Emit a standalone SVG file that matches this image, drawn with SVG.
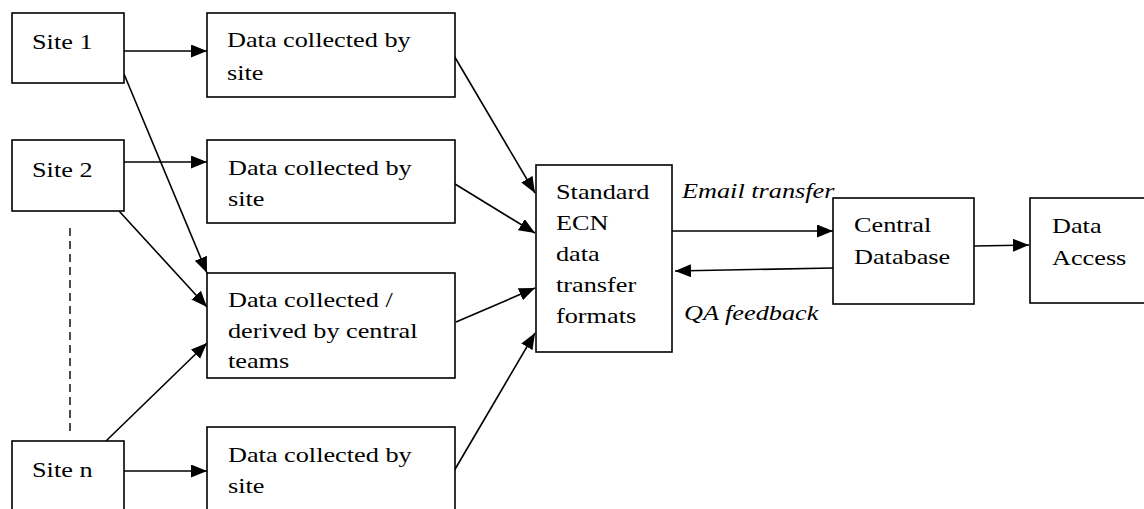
<svg xmlns="http://www.w3.org/2000/svg" width="1144" height="509" viewBox="0 0 1144 509">
<defs>
<style>
.box{fill:#fff;stroke:#000;stroke-width:1.6}
.t{font-family:"Liberation Serif","Times New Roman",serif;font-size:21px;fill:#000}
.i{font-style:italic}
.c{fill:none;stroke:#000;stroke-width:1.6}
.d{fill:none;stroke:#000;stroke-width:1.4;stroke-dasharray:8 5}
</style>
<marker id="ah" markerUnits="userSpaceOnUse" markerWidth="17" markerHeight="14" refX="16" refY="6.5" orient="auto">
<path d="M0,0 L16,6.5 L0,13 z" fill="#000"/>
</marker>
</defs>
<rect width="1144" height="509" fill="#fff"/>
<g id="connectors">
<line class="c" x1="124" y1="51" x2="207" y2="51" marker-end="url(#ah)"/>
<line class="c" x1="124" y1="162" x2="207" y2="162" marker-end="url(#ah)"/>
<line class="c" x1="124" y1="74" x2="207" y2="273" marker-end="url(#ah)"/>
<line class="c" x1="119" y1="211" x2="207" y2="307" marker-end="url(#ah)"/>
<line class="c" x1="106" y1="441" x2="207" y2="343" marker-end="url(#ah)"/>
<line class="c" x1="124" y1="471" x2="207" y2="471" marker-end="url(#ah)"/>
<line class="d" x1="70" y1="228" x2="70" y2="434"/>
<line class="c" x1="453" y1="54" x2="535" y2="193" marker-end="url(#ah)"/>
<line class="c" x1="455" y1="184" x2="535" y2="233" marker-end="url(#ah)"/>
<line class="c" x1="456" y1="322" x2="535" y2="288" marker-end="url(#ah)"/>
<line class="c" x1="454" y1="471" x2="535" y2="333" marker-end="url(#ah)"/>
<line class="c" x1="672" y1="231" x2="833" y2="231" marker-end="url(#ah)"/>
<line class="c" x1="833" y1="268" x2="675" y2="271" marker-end="url(#ah)"/>
<line class="c" x1="974" y1="246" x2="1029" y2="245" marker-end="url(#ah)"/>
<text class="t i" transform="translate(682,198) scale(1.25,1)">Email transfer</text>
<text class="t i" transform="translate(684,320) scale(1.25,1)">QA feedback</text>
</g>
<g id="site1">
<rect class="box" x="12" y="13" width="112" height="70"/>
<text class="t" transform="translate(32,49) scale(1.25,1)">Site 1</text>
</g>
<g id="site2">
<rect class="box" x="12" y="140" width="112" height="71"/>
<text class="t" transform="translate(32,177) scale(1.25,1)">Site 2</text>
</g>
<g id="siten">
<rect class="box" x="12" y="441" width="112" height="90"/>
<text class="t" transform="translate(32,477) scale(1.25,1)">Site n</text>
</g>
<g id="data1">
<rect class="box" x="207" y="13" width="248" height="84"/>
<text class="t" transform="translate(227,47) scale(1.25,1)">Data collected by</text>
<text class="t" transform="translate(227,80) scale(1.25,1)">site</text>
</g>
<g id="data2">
<rect class="box" x="207" y="140" width="248" height="83"/>
<text class="t" transform="translate(228,175) scale(1.25,1)">Data collected by</text>
<text class="t" transform="translate(228,206) scale(1.25,1)">site</text>
</g>
<g id="data3">
<rect class="box" x="207" y="273" width="248" height="105"/>
<text class="t" transform="translate(228,307) scale(1.25,1)">Data collected /</text>
<text class="t" transform="translate(228,338) scale(1.25,1)">derived by central</text>
<text class="t" transform="translate(228,368) scale(1.25,1)">teams</text>
</g>
<g id="data4">
<rect class="box" x="207" y="427" width="248" height="100"/>
<text class="t" transform="translate(228,462) scale(1.25,1)">Data collected by</text>
<text class="t" transform="translate(228,493) scale(1.25,1)">site</text>
</g>
<g id="standard">
<rect class="box" x="536" y="165" width="136" height="187"/>
<text class="t" transform="translate(556,199) scale(1.25,1)">Standard</text>
<text class="t" transform="translate(556,230) scale(1.25,1)">ECN</text>
<text class="t" transform="translate(556,261) scale(1.25,1)">data</text>
<text class="t" transform="translate(556,292) scale(1.25,1)">transfer</text>
<text class="t" transform="translate(556,323) scale(1.25,1)">formats</text>
</g>
<g id="central">
<rect class="box" x="833" y="198" width="141" height="106"/>
<text class="t" transform="translate(854,232) scale(1.25,1)">Central</text>
<text class="t" transform="translate(854,264) scale(1.25,1)">Database</text>
</g>
<g id="access">
<rect class="box" x="1030" y="198" width="130" height="105"/>
<text class="t" transform="translate(1052,233) scale(1.25,1)">Data</text>
<text class="t" transform="translate(1052,265) scale(1.25,1)">Access</text>
</g>
</svg>
